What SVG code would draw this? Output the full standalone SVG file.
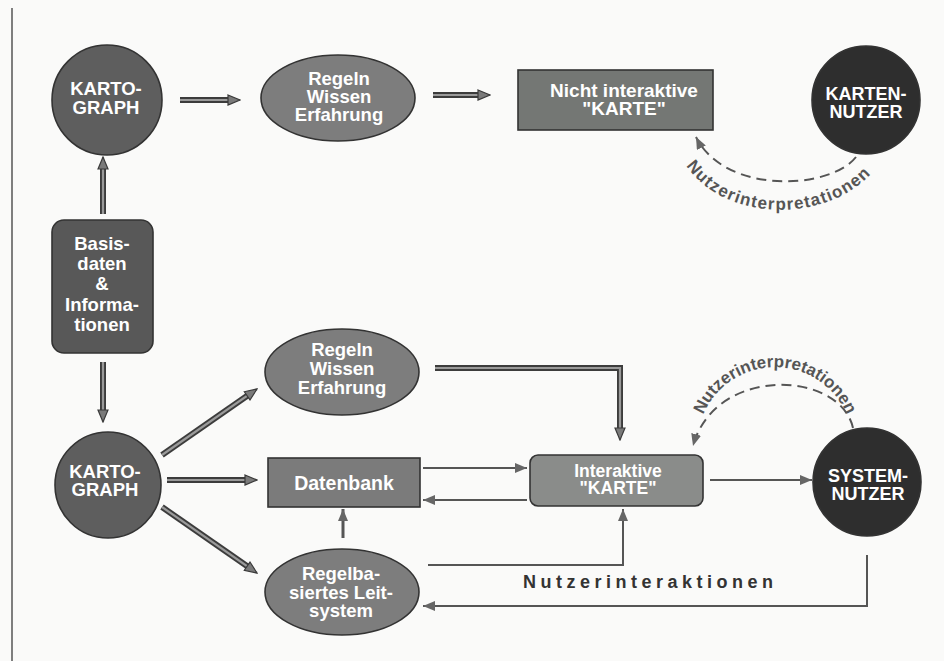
<svg xmlns="http://www.w3.org/2000/svg" width="944" height="661" viewBox="0 0 944 661">
<style>
.lbl{font-family:"Liberation Sans",Arial,sans-serif;font-weight:bold;fill:#ffffff;text-anchor:middle;font-size:18.5px}
.shape{stroke:#333333;stroke-width:1.6}
.tk-o{fill:none;stroke:#3c3c3c;stroke-width:6}
.tk-i{fill:none;stroke:#9a9a9a;stroke-width:2.2;marker-end:url(#ah-thick)}
.thin{fill:none;stroke:#555555;stroke-width:2;marker-end:url(#ah-thin)}
.dash{fill:none;stroke:#555555;stroke-width:2;stroke-dasharray:10 6;marker-end:url(#ah-thin)}
.arc{font-family:"Liberation Sans",Arial,sans-serif;font-weight:bold;fill:#555555;font-size:17px}
.ui{font-family:"Liberation Sans",Arial,sans-serif;font-weight:bold;fill:#333333;font-size:18px;letter-spacing:4.5px}
</style>
<defs>
<marker id="ah-thick" viewBox="0 0 14 12" refX="13" refY="6" markerWidth="14" markerHeight="12" markerUnits="userSpaceOnUse" orient="auto"><path d="M1,1 L13,6 L1,11 Z" fill="#7a7a7a" stroke="#3a3a3a" stroke-width="1.2"/></marker>
<marker id="ah-thin" viewBox="0 0 12 10" refX="12" refY="5" markerWidth="12" markerHeight="10" markerUnits="userSpaceOnUse" orient="auto"><path d="M0,0 L12,5 L0,10 Z" fill="#666666"/></marker>
<path id="arcTop" d="M674,138 C698,232 852,232 888,148"/>
<path id="arcBot" d="M698.5,430 A78,78 0 0 1 851.5,430"/>
</defs>
<rect x="0" y="0" width="944" height="661" fill="#fafaf9"/>
<line x1="12" y1="8" x2="12" y2="661" stroke="#555555" stroke-width="1.5"/>

<g id="connectors">
<path class="tk-o" d="M180,100 H229"/><path class="tk-i" d="M180,100 H240"/>
<path class="tk-o" d="M433,95 H479"/><path class="tk-i" d="M433,95 H490"/>
<path class="tk-o" d="M103,214 V168"/><path class="tk-i" d="M103,214 V157"/>
<path class="tk-o" d="M103,362 V411"/><path class="tk-i" d="M103,362 V422"/>
<path class="tk-o" d="M162,455 L248,395.3"/><path class="tk-i" d="M162,455 L257,389"/>
<path class="tk-o" d="M167,480 H246"/><path class="tk-i" d="M167,480 H257"/>
<path class="tk-o" d="M162,507 L248,566.7"/><path class="tk-i" d="M162,507 L257,573"/>
<path class="tk-o" d="M435,368 H620 V429"/><path class="tk-i" d="M435,368 H620 V440"/>
<path class="thin" d="M423,468 H527"/>
<path class="thin" d="M527,500 H423"/>
<path class="thin" style="stroke-width:3" d="M343,538 V509"/>
<path class="thin" d="M710,480 H812"/>
<path class="thin" d="M867,555 V606 H423"/>
<path class="thin" d="M428,565 H623 V509"/>
<path class="dash" d="M856,157 C830,190 725,195 696,137"/>
<path class="dash" d="M853,428 C840,370 715,365 693,446"/>
<text class="arc" style="letter-spacing:1.2px"><textPath href="#arcTop" startOffset="50%" text-anchor="middle">Nutzerinterpretationen</textPath></text>
<text class="arc"><textPath href="#arcBot" startOffset="50%" text-anchor="middle">Nutzerinterpretationen</textPath></text>
<text class="ui" x="523" y="588">Nutzerinteraktionen</text>
</g>

<g id="kartograph-top">
<circle class="shape" cx="107" cy="100" r="55" fill="#5e5e5e"/>
<text class="lbl"><tspan x="106" y="95">KARTO-</tspan><tspan x="106" y="114">GRAPH</tspan></text>
</g>
<g id="regeln-top">
<ellipse class="shape" cx="338" cy="98" rx="77" ry="43" fill="#7d7d7d"/>
<text class="lbl"><tspan x="339" y="85">Regeln</tspan><tspan x="339" y="103">Wissen</tspan><tspan x="339" y="121">Erfahrung</tspan></text>
</g>
<g id="nicht-interaktive-karte">
<rect class="shape" x="518" y="70" width="195" height="60" fill="#747774"/>
<text class="lbl" style="font-size:19px"><tspan x="624" y="97">Nicht interaktive</tspan><tspan x="624" y="115">"KARTE"</tspan></text>
</g>
<g id="kartennutzer">
<circle class="shape" cx="866" cy="100" r="54" fill="#2e2e2e"/>
<text class="lbl" style="font-size:18px"><tspan x="866" y="100">KARTEN-</tspan><tspan x="866" y="118">NUTZER</tspan></text>
</g>
<g id="basisdaten">
<rect class="shape" x="52" y="220" width="101" height="133" rx="12" fill="#585858"/>
<text class="lbl"><tspan x="102" y="250">Basis-</tspan><tspan x="102" y="270">daten</tspan><tspan x="102" y="290">&amp;</tspan><tspan x="102" y="311">Informa-</tspan><tspan x="102" y="331">tionen</tspan></text>
</g>
<g id="kartograph-bottom">
<circle class="shape" cx="108" cy="485" r="53" fill="#5e5e5e"/>
<text class="lbl"><tspan x="105" y="478">KARTO-</tspan><tspan x="105" y="496">GRAPH</tspan></text>
</g>
<g id="regeln-middle">
<ellipse class="shape" cx="342" cy="372" rx="77" ry="43" fill="#7d7d7d"/>
<text class="lbl"><tspan x="342" y="356">Regeln</tspan><tspan x="342" y="375">Wissen</tspan><tspan x="342" y="394">Erfahrung</tspan></text>
</g>
<g id="datenbank">
<rect class="shape" x="268" y="458" width="152" height="49" fill="#7b7b7b"/>
<text class="lbl" style="font-size:19.5px" x="344" y="490">Datenbank</text>
</g>
<g id="interaktive-karte">
<rect class="shape" x="530" y="455" width="173" height="51" rx="8" fill="#8a8c8a"/>
<text class="lbl" style="font-size:17.5px"><tspan x="618" y="477">Interaktive</tspan><tspan x="618" y="494">"KARTE"</tspan></text>
</g>
<g id="regelbasiertes-leitsystem">
<ellipse class="shape" cx="342" cy="592" rx="77" ry="43" fill="#7d7d7d"/>
<text class="lbl"><tspan x="341" y="580">Regelba-</tspan><tspan x="341" y="599">siertes Leit-</tspan><tspan x="341" y="617">system</tspan></text>
</g>
<g id="systemnutzer">
<circle class="shape" cx="867" cy="482" r="54" fill="#2e2e2e"/>
<text class="lbl" style="font-size:18px"><tspan x="868" y="482">SYSTEM-</tspan><tspan x="868" y="500">NUTZER</tspan></text>
</g>
</svg>
